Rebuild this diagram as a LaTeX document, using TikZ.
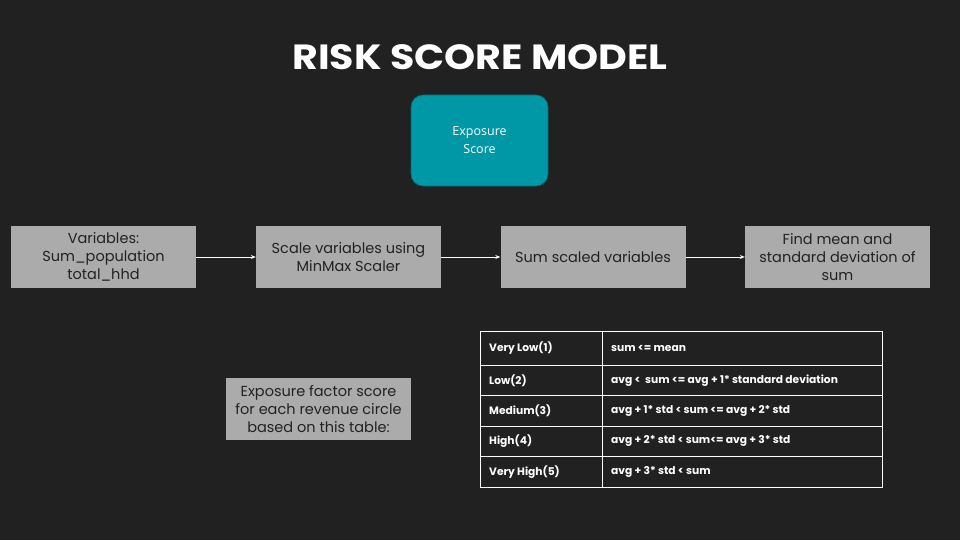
\documentclass[tikz,border=0pt]{standalone}
\usepackage{fontspec}
\setmainfont{Poppins}
\newfontfamily\osans{Open Sans}
\usetikzlibrary{arrows.meta}
\definecolor{bg}{RGB}{33,33,33}
\definecolor{teal}{RGB}{0,151,167}
\definecolor{boxgray}{RGB}{171,171,171}
\definecolor{boxtext}{RGB}{34,34,34}
\tikzset{
  px/.style={x=1pt,y=-1pt},
  graybox/.style={fill=boxgray, draw=none, minimum width=185pt, minimum height=62pt, inner sep=0pt,
    align=center, text=boxtext, font=\fontsize{14.5}{18}\selectfont},
  flow/.style={draw=white, line width=0.8pt, -{Stealth[length=5pt,width=4pt]}},
  cell/.style={anchor=west, text=white, font=\fontsize{10.7}{12}\selectfont\bfseries, inner sep=0pt},
}
\begin{document}
\begin{tikzpicture}[px]
\fill[bg] (0,0) rectangle (960,540);
\useasboundingbox (0,0) rectangle (960,540);
\node[text=white, font=\fontsize{35}{40}\selectfont\bfseries] (title) at (480,57) {\scalebox{1.13}[1]{RISK SCORE MODEL}};
\node[fill=teal, draw=teal!70!black, line width=0.6pt, rounded corners=12pt, minimum width=137pt, minimum height=91pt,
  align=center, text=white, font=\osans\fontsize{12.5}{18}\selectfont] (exp) at (479.5,140.5) {Exposure\\Score};
\node[graybox] (b1) at (103.5,257) {Variables:\\Sum\_population\\total\_hhd};
\node[graybox] (b2) at (348.5,257) {Scale variables using\\MinMax Scaler};
\node[graybox] (b3) at (593,257) {Sum scaled variables};
\node[graybox] (b4) at (837.5,257) {Find mean and\\standard deviation of\\sum};
\draw[flow] (b1) -- (b2);
\draw[flow] (b2) -- (b3);
\draw[flow] (b3) -- (b4);
\node[graybox] (fac) at (318.5,409) {Exposure factor score\\for each revenue circle\\based on this table:};
% table
\draw[white, line width=0.8pt] (480,331) rectangle (882,487);
\foreach \yy in {365,395.7,426.3,456.3} \draw[white, line width=0.8pt] (480,\yy) -- (882,\yy);
\draw[white, line width=0.8pt] (602.5,331) -- (602.5,487);
\node[cell] (r1a) at (489,348.5) {Very Low(1)};
\node[cell] (r1b) at (611,348.5) {sum <= mean};
\node[cell] (r2a) at (489,380.5) {Low(2)};
\node[cell] (r2b) at (611,380.5) {avg <~ sum <= avg + 1* standard deviation};
\node[cell] (r3a) at (489,411) {Medium(3)};
\node[cell] (r3b) at (611,411) {avg + 1* std < sum <= avg + 2* std};
\node[cell] (r4a) at (489,441) {High(4)};
\node[cell] (r4b) at (611,441) {avg + 2* std < sum<= avg + 3* std};
\node[cell] (r5a) at (489,472) {Very High(5)};
\node[cell] (r5b) at (611,472) {avg + 3* std < sum};
\end{tikzpicture}
\end{document}
